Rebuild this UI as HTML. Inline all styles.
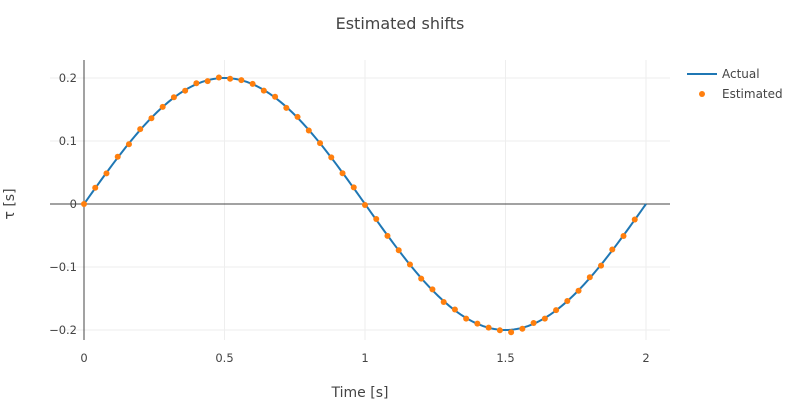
<!DOCTYPE html>
<html><head><meta charset="utf-8"><style>
body{margin:0;background:#fff}
svg text{font-family:"DejaVu Sans","Liberation Sans",sans-serif;fill:#444}
</style></head><body>
<svg id="s" width="800" height="400" xmlns="http://www.w3.org/2000/svg">
<rect width="800" height="400" fill="#fff"/>
<g stroke="#eee" stroke-width="1">
<line x1="50" x2="670" y1="78" y2="78"/><line x1="50" x2="670" y1="141" y2="141"/>
<line x1="50" x2="670" y1="267" y2="267"/><line x1="50" x2="670" y1="330" y2="330"/>
<line x1="224.5" x2="224.5" y1="60" y2="340"/><line x1="365" x2="365" y1="60" y2="340"/>
<line x1="505.5" x2="505.5" y1="60" y2="340"/><line x1="646" x2="646" y1="60" y2="340"/>
</g>
<line x1="84" x2="84" y1="60" y2="340" stroke="#444" stroke-width="1"/>
<line x1="50" x2="670" y1="204" y2="204" stroke="#444" stroke-width="1"/>
<g font-size="11.5" text-anchor="end">
<text x="77" y="82">0.2</text><text x="77" y="145">0.1</text><text x="77" y="208">0</text>
<text x="77" y="271">−0.1</text><text x="77" y="334">−0.2</text>
</g>
<g font-size="11.5" text-anchor="middle">
<text x="84" y="362">0</text><text x="224.5" y="362">0.5</text><text x="365" y="362">1</text>
<text x="505.5" y="362">1.5</text><text x="646" y="362">2</text>
</g>
<text x="400" y="29" font-size="16" text-anchor="middle">Estimated shifts</text>
<text x="360" y="397" font-size="14" text-anchor="middle">Time [s]</text>
<text transform="translate(14,204) rotate(-90)" font-size="14" text-anchor="middle">τ [s]</text>
<g id="plot"></g>
<line x1="687" x2="717" y1="74" y2="74" stroke="#1f77b4" stroke-width="2"/>
<text x="722" y="78" font-size="12">Actual</text>
<circle cx="702" cy="94" r="3" fill="#ff7f0e"/>
<text x="722" y="98" font-size="12">Estimated</text>
</svg>
<script>
var g=document.getElementById('plot'),ns='http://www.w3.org/2000/svg';
function X(t){return 84+281*t}function Y(v){return 204-630*v}
var d='';for(var i=0;i<=200;i++){var t=i/100;d+=(i?'L':'M')+X(t).toFixed(2)+','+Y(0.2*Math.sin(Math.PI*t)).toFixed(2);}
var p=document.createElementNS(ns,'path');p.setAttribute('d',d);p.setAttribute('fill','none');p.setAttribute('stroke','#1f77b4');p.setAttribute('stroke-width','2');g.appendChild(p);
for(var k=0;k<50;k++){var t=k*0.04;var n=0.0015*Math.sin(k*2.7)*(k>0?1:0);if(k==38)n=-0.004;
var c=document.createElementNS(ns,'circle');c.setAttribute('cx',X(t));c.setAttribute('cy',Y(0.2*Math.sin(Math.PI*t)+n));c.setAttribute('r','3');c.setAttribute('fill','#ff7f0e');g.appendChild(c);}
</script>
</body></html>
